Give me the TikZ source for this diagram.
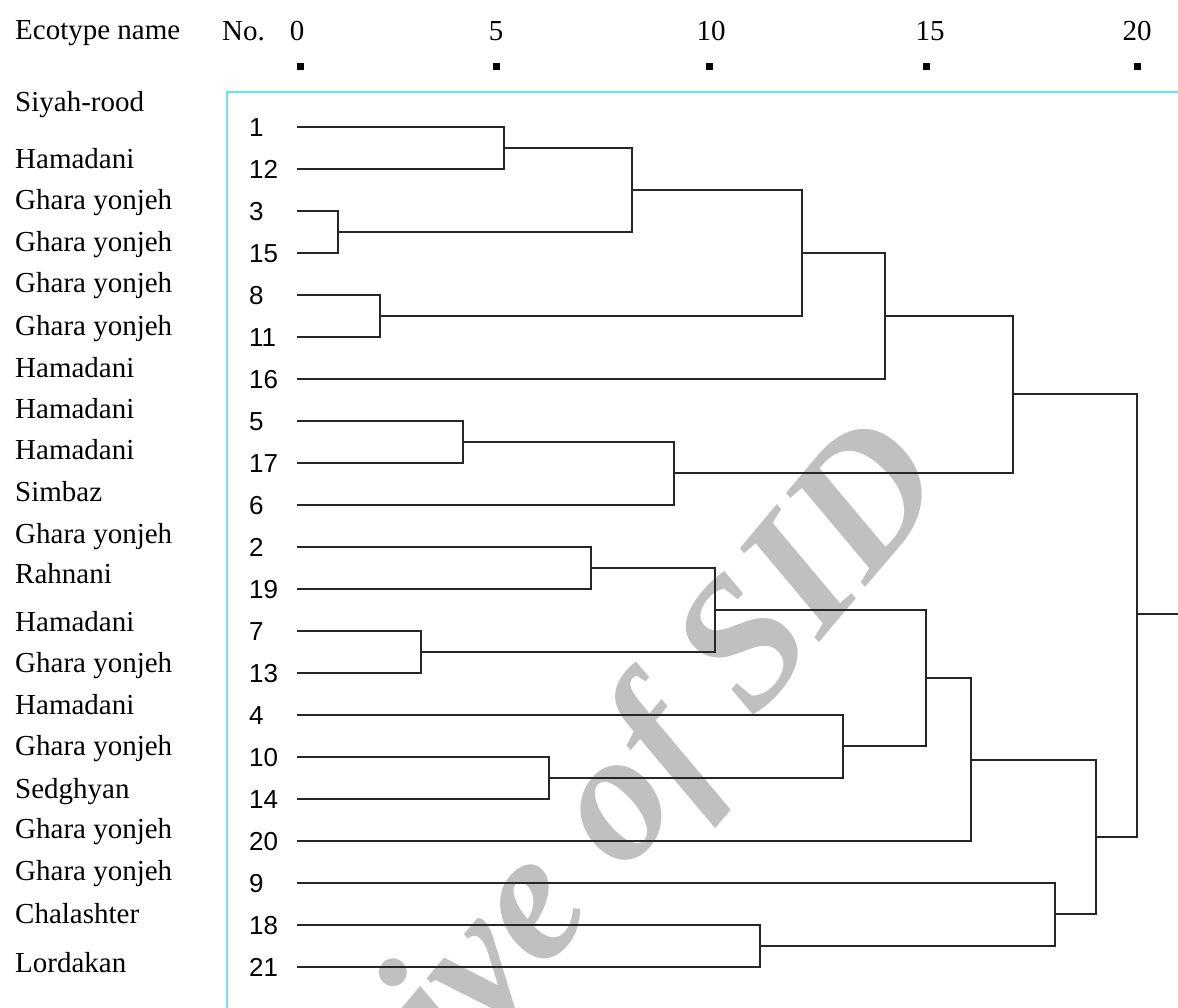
\documentclass[tikz,border=0pt]{standalone}
\usepackage{fontspec}
\setmainfont{Liberation Serif}
\newfontfamily\numfont{Liberation Sans}
\definecolor{framecyan}{RGB}{100,232,240}
\definecolor{wmgray}{RGB}{192,192,192}
\begin{document}
\begin{tikzpicture}[x=1pt,y=-1pt,
  namelbl/.style={anchor=base west,inner sep=0pt,font=\fontsize{29}{29}\selectfont},
  numlbl/.style={anchor=base west,inner sep=0pt,font=\numfont\fontsize{26}{26}\selectfont},
  scalelbl/.style={anchor=base,inner sep=0pt,font=\fontsize{29}{29}\selectfont},
  tree/.style={draw=black!85,line width=1.2pt},
  tickmark/.style={fill=black,minimum size=7pt,inner sep=0pt,draw=none},
  framestyle/.style={draw=framecyan,line width=1.2pt}
]
\useasboundingbox (0,0) rectangle (1178,1008);

% watermark
\node[rotate=50,text=wmgray,inner sep=0pt,font=\fontsize{185}{185}\selectfont\bfseries\itshape] (wm) at (548,896) {Archive of SID};

% header
\node[namelbl] (hdr) at (15,40) {Ecotype name};
\node[namelbl] (no) at (222,41) {No.};
\foreach \v/\x in {0/297,5/496,10/711,15/930,20/1137}{
  \node[scalelbl] (s\v) at (\x,41) {\v};
}
\foreach \v/\x in {0/300,5/496,10/709,15/926,20/1137.5}{
  \node[tickmark] (t\v) at (\x,67) {};
}

% frame
\coordinate (fb) at (227,1008);
\coordinate (fc) at (227,92);
\coordinate (fr) at (1178,92);
\draw[framestyle] (fb) -- (fc) -- (fr);

% ecotype names
\foreach \t/\y [count=\k] in {Siyah-rood/112,Hamadani/169,Ghara yonjeh/210,Ghara yonjeh/252,Ghara yonjeh/293,Ghara yonjeh/335,Hamadani/377,Hamadani/418,Hamadani/459,Simbaz/501,Ghara yonjeh/543,Rahnani/583,Hamadani/631,Ghara yonjeh/672,Hamadani/714,Ghara yonjeh/755,Sedghyan/798,Ghara yonjeh/838,Ghara yonjeh/880,Chalashter/923,Lordakan/972}{
  \node[namelbl] (e\k) at (15,\y) {\t};
}

% leaves
\foreach \n [count=\k] in {1,12,3,15,8,11,16,5,17,6,2,19,7,13,4,10,14,20,9,18,21}{
  \pgfmathsetmacro\yy{127+42*(\k-1)}
  \node[numlbl] (n\n) at (249,\yy+9.5) {\n};
  \coordinate (l\n) at (297,\yy);
}

% merge points
\coordinate (mA) at (504,148);
\coordinate (mB) at (338,232);
\coordinate (mC) at (632,190);
\coordinate (mD) at (380,316);
\coordinate (mE) at (802,253);
\coordinate (mF) at (885,316);
\coordinate (mG) at (463,442);
\coordinate (mH) at (674,473);
\coordinate (mI) at (1013,394);
\coordinate (mJ) at (591,568);
\coordinate (mK) at (421,652);
\coordinate (mL) at (715,610);
\coordinate (mM) at (549,778);
\coordinate (mN) at (843,746);
\coordinate (mO) at (926,678);
\coordinate (mP) at (971,760);
\coordinate (mQ) at (760,946);
\coordinate (mR) at (1055,914);
\coordinate (mS) at (1096,837);
\coordinate (mT) at (1137,614);
\coordinate (root) at (1178,614);

\draw[tree] (l1) -| (mA) |- (l12);
\draw[tree] (l3) -| (mB) |- (l15);
\draw[tree] (mA) -| (mC) |- (mB);
\draw[tree] (l8) -| (mD) |- (l11);
\draw[tree] (mC) -| (mE) |- (mD);
\draw[tree] (mE) -| (mF) |- (l16);
\draw[tree] (l5) -| (mG) |- (l17);
\draw[tree] (mG) -| (mH) |- (l6);
\draw[tree] (mF) -| (mI) |- (mH);
\draw[tree] (l2) -| (mJ) |- (l19);
\draw[tree] (l7) -| (mK) |- (l13);
\draw[tree] (mJ) -| (mL) |- (mK);
\draw[tree] (l10) -| (mM) |- (l14);
\draw[tree] (l4) -| (mN) |- (mM);
\draw[tree] (mL) -| (mO) |- (mN);
\draw[tree] (mO) -| (mP) |- (l20);
\draw[tree] (l18) -| (mQ) |- (l21);
\draw[tree] (l9) -| (mR) |- (mQ);
\draw[tree] (mP) -| (mS) |- (mR);
\draw[tree] (mI) -| (mT) |- (mS);
\draw[tree] (mT) -- (root);
\end{tikzpicture}
\end{document}
